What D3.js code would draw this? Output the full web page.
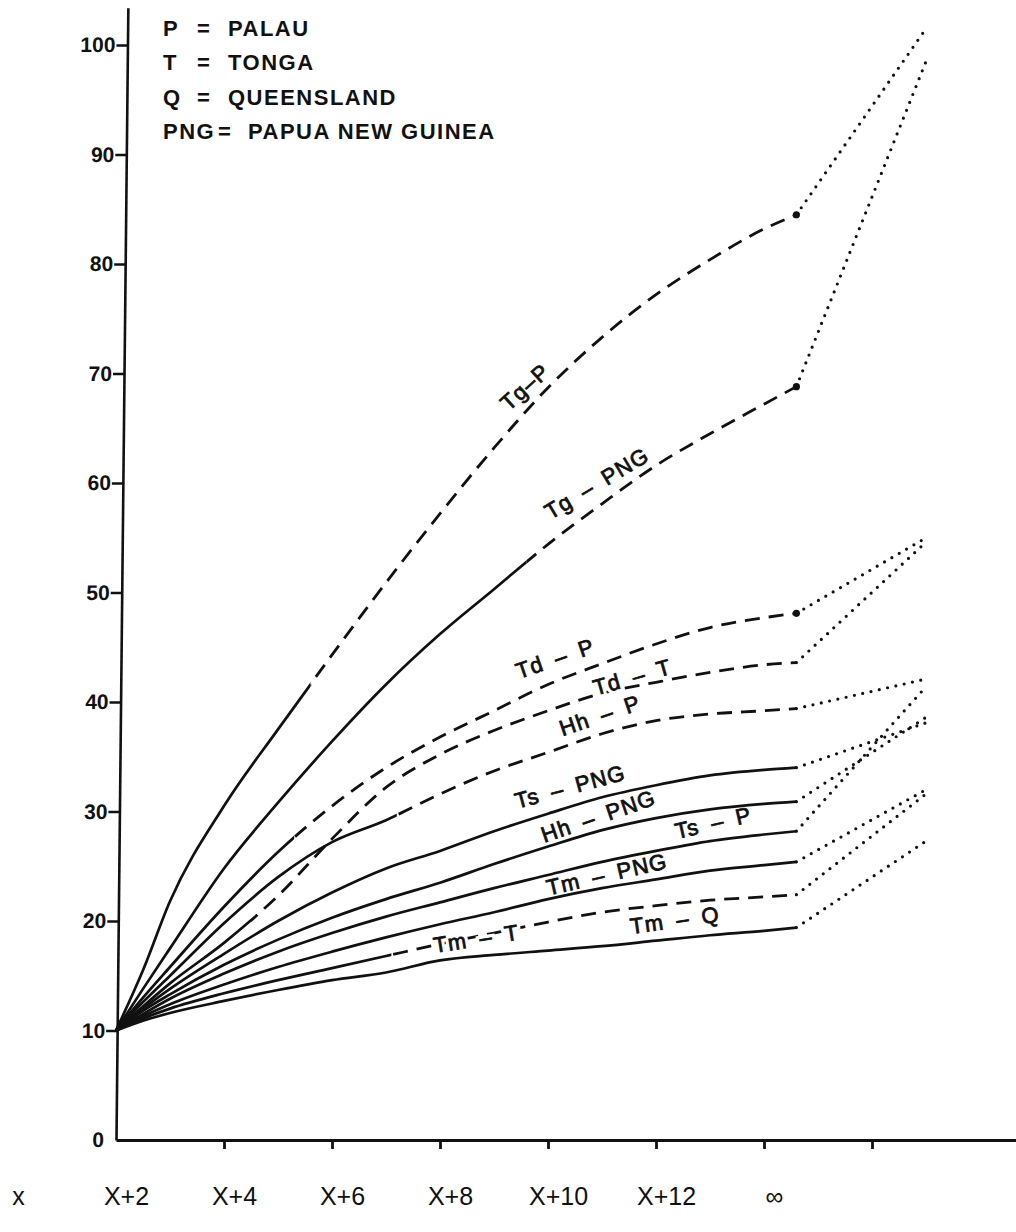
<!DOCTYPE html>
<html><head><meta charset="utf-8">
<script src="https://cdn.jsdelivr.net/npm/d3@7"></script>
<style>
html,body{margin:0;padding:0;background:#fff;}
svg{display:block;}
text{font-family:"Liberation Sans",Arial,Helvetica,sans-serif;fill:#111;}
</style></head><body>
<svg id="chart" width="1016" height="1232"></svg>
<script>
// ---------------- data ----------------
const xs = [0, 0.5, 1, 2, 3, 4, 5, 6, 7, 8, 9, 10, 11, 12, 12.6];
const xInf = 15;
const seriesLabels = ["Tg–P", "Tg\u2002–\u2002PNG", "Td\u2002–\u2002P", "Td\u2002–\u2002T", "Hh\u2002–\u2002P",
  "Ts\u2002–\u2002PNG", "Hh\u2002–\u2002PNG", "Ts\u2002–\u2002P", "Tm\u2002–\u2002PNG", "Tm\u2002–\u2002T", "Tm\u2002–\u2002Q"];
const tgP   = [10, 15.5, 21.8, 30.5, 37.5, 44.3, 50.9, 57.2, 63.2, 68.7, 73.3, 77.2, 80.4, 83.2, 84.5];
const tgPNG = [10, 13.8, 17.5, 24.8, 30.8, 36.4, 41.6, 46.2, 50.3, 54.4, 58.1, 61.6, 64.5, 67.2, 68.8];
const tdP   = [10, 13.0, 15.8, 21.3, 26.3, 30.5, 34.0, 36.8, 39.2, 41.6, 43.5, 45.3, 46.8, 47.7, 48.1];
const tdT   = [10, 12.2, 14.3, 18.0, 22.3, 27.5, 32.2, 35.2, 37.4, 39.2, 40.8, 41.8, 42.7, 43.4, 43.6];
const hhP   = [10, 12.6, 15.0, 19.8, 24.0, 27.2, 29.2, 31.6, 33.7, 35.4, 37.1, 38.3, 38.9, 39.2, 39.4];
const tsPNG = [10, 12.0, 13.8, 17.0, 20.0, 22.6, 24.8, 26.4, 28.2, 29.8, 31.3, 32.4, 33.3, 33.8, 34.0];
const hhPNG = [10, 11.8, 13.3, 16.0, 18.3, 20.3, 22.0, 23.5, 25.2, 26.8, 28.3, 29.4, 30.2, 30.7, 30.9];
const tsP   = [10, 11.5, 12.9, 15.2, 17.2, 18.9, 20.4, 21.7, 23.0, 24.2, 25.4, 26.4, 27.3, 27.9, 28.2];
const tmPNG = [10, 11.3, 12.4, 14.2, 15.8, 17.2, 18.5, 19.7, 20.8, 22.0, 23.0, 23.8, 24.6, 25.1, 25.4];
const tmT   = [10, 11.1, 12.0, 13.4, 14.6, 15.7, 16.8, 17.9, 18.9, 19.9, 20.8, 21.4, 21.9, 22.2, 22.4];
const tmQ   = [10, 10.9, 11.6, 12.7, 13.7, 14.6, 15.3, 16.4, 16.9, 17.3, 17.7, 18.2, 18.7, 19.1, 19.4];
const seriesValues = [tgP, tgPNG, tdP, tdT, hhP, tsPNG, hhPNG, tsP, tmPNG, tmT, tmQ];
const infValues = [101.5, 98.5, 55.0, 54.6, 42.1, 38.1, 38.6, 41.4, 32.0, 31.6, 27.3];
// x (in generations) where a line turns from solid to dashed; null = solid throughout
const dashFrom = [3.6, 7.6, 3.3, 2.5, 5.2, null, null, null, null, 5.1, null];
const yTicks = [0, 10, 20, 30, 40, 50, 60, 70, 80, 90, 100];
const xTickValues = [2, 4, 6, 8, 10, 12, 14];
const xLabelValues = [0, 2, 4, 6, 8, 10, 12, 14];
const xTickLabels = ["x", "X+2", "X+4", "X+6", "X+8", "X+10", "X+12", "∞"];
const legendKeys = ["P", "T", "Q", "PNG"];
const legendNames = ["PALAU", "TONGA", "QUEENSLAND", "PAPUA NEW GUINEA"];

// ---------------- layout (label anchors in data units) ----------------
const labelPlacement = [
  {u: 7.57, v: 68.8, a: -42, halo: true},
  {u: 8.90, v: 60.0, a: -31, halo: false},
  {u: 8.13, v: 44.0, a: -19, halo: false},
  {u: 9.56, v: 42.3, a: -16, halo: true},
  {u: 8.96, v: 38.8, a: -19, halo: false},
  {u: 8.41, v: 32.3, a: -15, halo: false},
  {u: 8.93, v: 29.6, a: -19, halo: false},
  {u: 11.06, v: 29.0, a: -13, halo: false},
  {u: 9.09, v: 24.3, a: -13, halo: false},
  {u: 6.67, v: 18.4, a: -9, halo: true},
  {u: 10.35, v: 20.1, a: -8, halo: false}
];
const endDot = [true, true, true, false, false, false, false, false, false, false, false];

const svg = d3.select("#chart");
const x = d3.scaleLinear().domain([0, 14]).range([116, 872]);
const y = d3.scaleLinear().domain([0, 100]).range([1140, 45]);
const ink = "#111";

// ---------------- axes ----------------
const yTop = 103.4;
const yAxisScale = y.copy().domain([0, yTop]).range([y(0), y(yTop)]);
const gy = svg.append("g")
  .attr("transform", `translate(${x(0)},${y(0)}) skewX(-0.6) translate(0,${-y(0)})`)
  .call(d3.axisLeft(yAxisScale).tickValues(yTicks).tickSize(11).tickPadding(1).tickSizeOuter(0));
gy.select(".domain").attr("stroke", ink).attr("stroke-width", 2.6);
gy.selectAll(".tick line").attr("stroke", ink).attr("stroke-width", 2.6)
  .filter(d => d === 0).remove();
gy.selectAll(".tick text").attr("font-size", 21).attr("font-weight", "bold")
  .attr("font-family", '"Liberation Sans",Arial,sans-serif').attr("fill", ink);

const xAxisScale = x.copy().domain([0, x.invert(1016)]).range([x(0), 1016]);
const gx = svg.append("g").attr("transform", `translate(0,${y(0)})`)
  .call(d3.axisBottom(xAxisScale).tickValues(xTickValues).tickSize(9).tickSizeOuter(0).tickFormat(""));
gx.select(".domain").attr("stroke", ink).attr("stroke-width", 2.8);
gx.selectAll(".tick line").attr("stroke", ink).attr("stroke-width", 2.8);

const gl = svg.append("g").attr("transform", `translate(-98,1187)`)
  .call(d3.axisBottom(x).tickValues(xLabelValues).tickSize(0).tickPadding(0)
    .tickFormat((d, i) => xTickLabels[i]));
gl.select(".domain").remove();
gl.selectAll(".tick text").attr("font-size", 25)
  .attr("font-family", '"Liberation Sans Narrow","Arial Narrow","Liberation Sans",sans-serif')
  .attr("fill", ink);

// ---------------- lines ----------------
const defs = svg.append("defs");
const line = d3.line().x(d => x(d[0])).y(d => y(d[1])).curve(d3.curveMonotoneX);
const gLines = svg.append("g").attr("fill", "none").attr("stroke", ink);

seriesValues.forEach((vals, i) => {
  const pts = xs.map((u, k) => [u, vals[k]]);
  const d = line(pts);
  if (dashFrom[i] == null) {
    gLines.append("path").attr("d", d).attr("stroke-width", 2.7).attr("stroke-linejoin", "round");
  } else {
    const xs0 = x(dashFrom[i]);
    defs.append("clipPath").attr("id", "cs" + i).append("rect")
      .attr("x", 0).attr("y", 0).attr("width", xs0).attr("height", 1232);
    defs.append("clipPath").attr("id", "cd" + i).append("rect")
      .attr("x", xs0).attr("y", 0).attr("width", 1016 - xs0).attr("height", 1232);
    gLines.append("path").attr("d", d).attr("stroke-width", 2.7)
      .attr("clip-path", `url(#cs${i})`);
    gLines.append("path").attr("d", d).attr("stroke-width", 2.8)
      .attr("stroke-dasharray", "15 9").attr("clip-path", `url(#cd${i})`);
  }
  const last = pts[pts.length - 1];
  gLines.append("path")
    .attr("d", d3.line().x(p => x(p[0])).y(p => y(p[1]))([last, [xInf, infValues[i]]]))
    .attr("stroke-width", 3.2).attr("stroke-linecap", "round")
    .attr("stroke-dasharray", "0 8.5");
  if (endDot[i]) {
    gLines.append("circle").attr("cx", x(last[0])).attr("cy", y(last[1])).attr("r", 3.6)
      .attr("fill", ink).attr("stroke", "none");
  }
});

// ---------------- line labels ----------------
const gLab = svg.append("g");
seriesLabels.forEach((lab, i) => {
  const p = labelPlacement[i];
  const tr = `translate(${x(p.u)},${y(p.v)}) rotate(${p.a})`;
  if (p.halo) {
    gLab.append("text").attr("transform", tr)
      .attr("text-anchor", "middle").attr("dy", "0.36em")
      .attr("font-size", 22).attr("letter-spacing", 1.2)
      .attr("fill", "#fff").attr("stroke", "#fff").attr("stroke-width", 7)
      .text(lab);
  }
  gLab.append("text").attr("transform", tr)
    .attr("text-anchor", "middle").attr("dy", "0.36em")
    .attr("font-size", 22).attr("letter-spacing", 1.2)
    .attr("fill", ink).attr("stroke", ink).attr("stroke-width", 0.8)
    .text(lab);
});

// ---------------- legend ----------------
const lg = svg.append("g").attr("font-size", 22).attr("font-weight", "bold").attr("letter-spacing", 1.5);
legendKeys.forEach((k, i) => {
  const by = 36 + i * 34.4;
  const wide = k.length > 1;
  lg.append("text").attr("x", 163).attr("y", by).text(k);
  lg.append("text").attr("x", wide ? 218 : 197).attr("y", by).text("=");
  lg.append("text").attr("x", wide ? 248 : 228).attr("y", by).text(legendNames[i]);
});
</script>
</body></html>
